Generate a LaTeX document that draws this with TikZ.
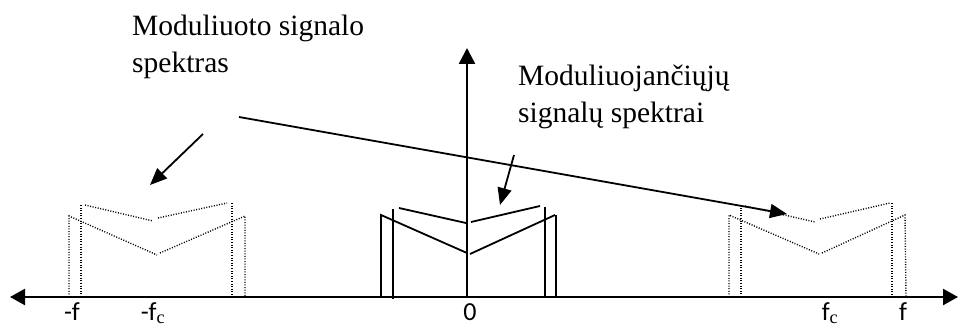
\documentclass[tikz,border=0pt]{standalone}
\usepackage{fontspec}
\setmainfont{Liberation Serif}
\newfontfamily\lblfont{Carlito}
\usetikzlibrary{arrows.meta}
\begin{document}
\begin{tikzpicture}[x=1pt,y=-1pt,
  axis/.style={line width=2.4pt},
  spec/.style={line width=1.8pt},
  dspec/.style={line width=1.4pt, dash pattern=on 1pt off 1.6pt},
  pointer/.style={line width=1.8pt,-{Triangle[length=17pt,width=14pt]}},
  caption/.style={font=\fontsize{29.5}{35}\selectfont, anchor=base west, inner sep=0pt},
  tick/.style={font=\lblfont\fontsize{26}{30}\selectfont, anchor=base, inner sep=0pt}]
\useasboundingbox (0,0) rectangle (958,326);
% axes
\coordinate (L) at (10,297);
\coordinate (R) at (958,297);
\coordinate (O) at (467,297);
\coordinate (T) at (467,48);
\draw[axis,{Triangle[length=15pt,width=16pt]}-{Triangle[length=15pt,width=16pt]}] (L) -- (R);
\draw[axis,-{Triangle[length=16pt,width=16pt]}] (O) -- (T);
% central (solid) spectra
\draw[spec] (381,297) -- (381,215) -- (467,253);
\draw[spec] (470,254) -- (555,215);
\draw[spec] (556,215) -- (556,297);
\draw[spec] (393,299) -- (393,209);
\draw[spec] (399,208) -- (466,223);
\draw[spec] (471,222) -- (540,206);
\draw[spec] (545,207) -- (545,297);
% left (dotted) spectra
\draw[dspec] (69,297) -- (69,216) -- (157,255);
\draw[dspec] (160,253) -- (245,216) -- (245,297);
\draw[dspec] (81,297) -- (81,205);
\draw[dspec] (85,205) -- (153,221);
\draw[dspec] (158,218) -- (227,203);
\draw[dspec] (232,203) -- (232,297);
% right (dotted) spectra
\draw[dspec] (729,297) -- (729,215) -- (819,254);
\draw[dspec] (822,253) -- (905,215) -- (906,297);
\draw[dspec] (741,297) -- (741,207);
\draw[dspec] (745,206) -- (815,222);
\draw[dspec] (820,219) -- (890,203);
\draw[dspec] (892,203) -- (892,297);
% captions
\node[caption] (c1a) at (132,36) {Moduliuoto signalo};
\node[caption] (c1b) at (132,73) {spektras};
\node[caption] (c2a) at (518,86) {Moduliuojančiųjų};
\node[caption] (c2b) at (518,123) {signalų spektrai};
% pointers
\coordinate (p1s) at (239,117);
\coordinate (p1e) at (787,214);
\coordinate (p2s) at (203,134);
\coordinate (p2e) at (150,185);
\coordinate (p3s) at (514,155);
\coordinate (p3e) at (500,205);
\draw[pointer] (p1s) -- (p1e);
\draw[pointer] (p2s) -- (p2e);
\draw[pointer] (p3s) -- (p3e);
% tick labels
\node[tick] (mf) at (72,320) {-f};
\node[tick] (mfc) at (153,320) {-f$_{\mathrm{c}}$};
\node[tick] (zero) at (470,320) {0};
\node[tick] (fc) at (830,320) {f$_{\mathrm{c}}$};
\node[tick] (pf) at (903,320) {f};
\end{tikzpicture}
\end{document}
